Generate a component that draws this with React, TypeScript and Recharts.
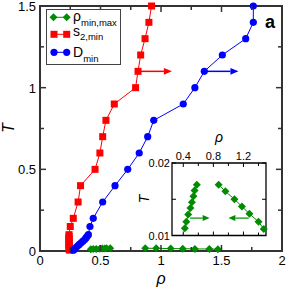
import React from "react";
import {
  LineChart,
  Line,
  XAxis,
  YAxis,
  ReferenceArea,
  ReferenceLine,
  Legend,
} from "recharts";

// s2,min branch (red squares)
const s2MinRho = [0.245, 0.24, 0.24, 0.24, 0.24, 0.24, 0.24, 0.24, 0.24, 0.24, 0.24, 0.25, 0.275, 0.315, 0.335, 0.455, 0.495, 0.518, 0.545, 0.614, 0.79, 0.81, 0.832, 0.868, 0.9, 0.922];
const s2MinT = [0.005, 0.01, 0.02, 0.03, 0.04, 0.05, 0.06, 0.07, 0.08, 0.09, 0.1, 0.15, 0.2, 0.3, 0.4, 0.5, 0.6, 0.7, 0.8, 0.9, 1.0, 1.1, 1.2, 1.3, 1.4, 1.5];

// D_min branch (blue circles)
const dMinRho = [0.275, 0.285, 0.295, 0.31, 0.325, 0.34, 0.355, 0.37, 0.38, 0.39, 0.4, 0.413, 0.44, 0.518, 0.62, 0.725, 0.82, 0.89, 0.94, 1.184, 1.28, 1.358, 1.507, 1.7, 1.763, 1.763];
const dMinT = [0.005, 0.01, 0.02, 0.03, 0.04, 0.05, 0.06, 0.07, 0.08, 0.09, 0.1, 0.15, 0.2, 0.3, 0.4, 0.5, 0.6, 0.7, 0.8, 0.9, 1.0, 1.1, 1.2, 1.3, 1.4, 1.5];

// rho_min / rho_max (green diamonds)
const rhoMinRho = [0.58, 0.55, 0.535, 0.515, 0.495, 0.465, 0.44, 0.42];
const rhoMinT = [0.017, 0.0162, 0.0154, 0.0146, 0.0138, 0.0129, 0.0119, 0.011];
const rhoMaxRho = [0.87, 0.96, 1.08, 1.18, 1.28, 1.4, 1.47];
const rhoMaxT = [0.017, 0.0161, 0.015, 0.014, 0.013, 0.0119, 0.0109];

const mainXTicks = [0, 0.25, 0.5, 0.75, 1, 1.25, 1.5, 1.75, 2];
const mainXLabels = ["0", "", "0.5", "", "1", "", "1.5", "", "2"];
const mainYTicks = [0, 0.25, 0.5, 0.75, 1, 1.25, 1.5];
const mainYLabels = ["0", "", "0.5", "", "1", "", "1.5"];
const insetXTicks = [0.4, 0.6, 0.8, 1.0, 1.2, 1.4];
const insetXLabels = ["0.4", "", "0.8", "", "1.2", ""];
const insetYTicks = [0.01, 0.015, 0.02];
const insetYLabels = ["0.01", "", "0.02"];

const s2Arrow = [{ x: 0.81, y: 1.1 }, { x: 1.09, y: 1.1 }];
const dArrow = [{ x: 1.36, y: 1.1 }, { x: 1.64, y: 1.1 }];
const minArrow = [{ x: 0.49, y: 0.0124 }, { x: 0.75, y: 0.0124 }];
const maxArrow = [{ x: 1.27, y: 0.0124 }, { x: 1.0, y: 0.0124 }];

const zip = (xs: number[], ys: number[]) => xs.map((x, i) => ({ x, y: ys[i] }));

const RED = "#ff0000";
const BLUE = "#0000ff";
const GREEN = "#008c00";
const FRAME = "#333333";
const FONT = "'Liberation Sans', Arial, sans-serif";

// main plot box
const MAIN = { top: 6, bottom: 251, left: 40, right: 282 };
// inset plot box (in inset chart coordinates)
const INSET = { top: 33, bottom: 105.5, left: 42, right: 136 };

const square = (color: string) => (p: any) =>
  p.cx == null ? null : (
    <rect key={p.key} x={p.cx - 3.5} y={p.cy - 3.5} width={7} height={7} fill={color} />
  );
const circle = (color: string) => (p: any) =>
  p.cx == null ? null : <circle key={p.key} cx={p.cx} cy={p.cy} r={3.6} fill={color} />;
const diamond = (color: string) => (p: any) =>
  p.cx == null ? null : (
    <polygon
      key={p.key}
      points={`${p.cx},${p.cy - 4} ${p.cx + 4},${p.cy} ${p.cx},${p.cy + 4} ${p.cx - 4},${p.cy}`}
      fill={color}
    />
  );

const arrowShape = (color: string, head: number, hw: number, sw: number) => (p: any) => {
  const { x1, y1, x2, y2 } = p;
  const dir = Math.sign(x2 - x1);
  return (
    <g>
      <line x1={x1} y1={y1} x2={x2 - dir * head} y2={y2} stroke={color} strokeWidth={sw} />
      <polygon
        points={`${x2},${y2} ${x2 - dir * head},${y2 - hw} ${x2 - dir * head},${y2 + hw}`}
        fill={color}
      />
    </g>
  );
};

const MainXTick = (p: any) => {
  const label = mainXLabels[mainXTicks.indexOf(p.payload.value)] || "";
  const len = label ? 6 : 4;
  return (
    <g>
      <line x1={p.x} y1={MAIN.bottom} x2={p.x} y2={MAIN.bottom - len} stroke={FRAME} strokeWidth={1.5} />
      <line x1={p.x} y1={MAIN.top} x2={p.x} y2={MAIN.top + len} stroke={FRAME} strokeWidth={1.5} />
      {label && (
        <text x={p.x} y={MAIN.bottom + 14} textAnchor="middle" fontSize={13} fontFamily={FONT} fill="#000">
          {label}
        </text>
      )}
    </g>
  );
};

const MainYTick = (p: any) => {
  const label = mainYLabels[mainYTicks.indexOf(p.payload.value)] || "";
  const len = label ? 6 : 4;
  return (
    <g>
      <line x1={MAIN.left} y1={p.y} x2={MAIN.left + len} y2={p.y} stroke={FRAME} strokeWidth={1.5} />
      <line x1={MAIN.right} y1={p.y} x2={MAIN.right - len} y2={p.y} stroke={FRAME} strokeWidth={1.5} />
      {label && (
        <text x={MAIN.left - 4} y={p.y + 5} textAnchor="end" fontSize={13} fontFamily={FONT} fill="#000">
          {label}
        </text>
      )}
    </g>
  );
};

const InsetXTick = (p: any) => {
  const label = insetXLabels[insetXTicks.indexOf(p.payload.value)] || "";
  const len = label ? 4 : 3;
  return (
    <g>
      <line x1={p.x} y1={INSET.top} x2={p.x} y2={INSET.top + len} stroke="#000" strokeWidth={1} />
      <line x1={p.x} y1={INSET.bottom} x2={p.x} y2={INSET.bottom - len} stroke="#000" strokeWidth={1} />
      {label && (
        <text x={p.x} y={INSET.top - 3} textAnchor="middle" fontSize={11} fontFamily={FONT} fill="#000">
          {label}
        </text>
      )}
    </g>
  );
};

const InsetYTick = (p: any) => {
  const label = insetYLabels[insetYTicks.indexOf(p.payload.value)] || "";
  return (
    <g>
      <line x1={INSET.left} y1={p.y} x2={INSET.left + 4} y2={p.y} stroke="#000" strokeWidth={1} />
      <line x1={INSET.right} y1={p.y} x2={INSET.right - 4} y2={p.y} stroke="#000" strokeWidth={1} />
      {label && (
        <text x={INSET.left - 2} y={p.y + 4} textAnchor="end" fontSize={11} fontFamily={FONT} fill="#000">
          {label}
        </text>
      )}
    </g>
  );
};

const LegendBox = () => (
  <div
    style={{
      width: 75,
      height: 56,
      border: "1px solid #444",
      boxSizing: "border-box",
      background: "#fff",
      fontFamily: FONT,
    }}
  >
    <svg width={73} height={54} style={{ display: "block", overflow: "visible" }}>
      <line x1={6.5} y1={7.3} x2={19.7} y2={7.3} stroke={GREEN} strokeWidth={1} />
      {diamond(GREEN)({ cx: 6.5, cy: 7.3 })}
      {diamond(GREEN)({ cx: 19.7, cy: 7.3 })}
      <text x={26} y={11} fontSize={14} fill="#000">
        ρ<tspan fontSize={9.5} dy={4.5}>min,max</tspan>
      </text>
      <line x1={7} y1={24.3} x2={19.7} y2={24.3} stroke={RED} strokeWidth={1} />
      {square(RED)({ cx: 7, cy: 24.3 })}
      {square(RED)({ cx: 19.7, cy: 24.3 })}
      <text x={26} y={26} fontSize={14} fill="#000">
        s<tspan fontSize={9.5} dy={4}>2,min</tspan>
      </text>
      <line x1={7} y1={42.3} x2={19.7} y2={42.3} stroke={BLUE} strokeWidth={1} />
      {circle(BLUE)({ cx: 7, cy: 42.3 })}
      {circle(BLUE)({ cx: 19.7, cy: 42.3 })}
      <text x={26} y={46.7} fontSize={14} fill="#000">
        D<tspan fontSize={9.5} dy={5}>min</tspan>
      </text>
    </svg>
  </div>
);

export default function App() {
  const s2Data = zip(s2MinRho, s2MinT);
  const dData = zip(dMinRho, dMinT);
  const minData = zip(rhoMinRho, rhoMinT);
  const maxData = zip(rhoMaxRho, rhoMaxT);

  return (
    <div style={{ position: "absolute", left: 0, top: 0, width: 289, height: 291, background: "#fff" }}>
      <LineChart width={289} height={291} margin={{ top: 6, right: 7, left: 0, bottom: 0 }}>
        <XAxis
          type="number"
          dataKey="x"
          domain={[0, 2]}
          ticks={mainXTicks}
          interval={0}
          height={40}
          axisLine={false}
          tickSize={0}
          tickMargin={0}
          tick={<MainXTick />}
        />
        <YAxis
          type="number"
          dataKey="y"
          domain={[0, 1.5]}
          ticks={mainYTicks}
          interval={0}
          width={40}
          axisLine={false}
          tickSize={0}
          tickMargin={0}
          tick={<MainYTick />}
        />
        <ReferenceArea x1={0} x2={2} y1={0} y2={1.5} fill="none" stroke={FRAME} strokeWidth={2} />
        <Line data={minData} dataKey="y" stroke={GREEN} strokeWidth={1} dot={diamond(GREEN)} isAnimationActive={false} />
        <Line data={maxData} dataKey="y" stroke={GREEN} strokeWidth={1} dot={diamond(GREEN)} isAnimationActive={false} />
        <Line data={s2Data} dataKey="y" stroke={RED} strokeWidth={1} dot={square(RED)} isAnimationActive={false} />
        <Line data={dData} dataKey="y" stroke={BLUE} strokeWidth={1} dot={circle(BLUE)} isAnimationActive={false} />
        <ReferenceLine segment={s2Arrow} shape={arrowShape(RED, 8, 3.4, 1.5)} />
        <ReferenceLine segment={dArrow} shape={arrowShape(BLUE, 8, 3.4, 1.5)} />
        <Legend
          layout="vertical"
          align="center"
          verticalAlign="middle"
          wrapperStyle={{ left: 46, top: 9, width: 75, height: 56 }}
          content={() => <LegendBox />}
        />
        <text x={270} y={28} textAnchor="middle" fontSize={18} fontWeight="bold" fontFamily={FONT} fill="#000">
          a
        </text>
        <text x={161} y={284} textAnchor="middle" fontSize={16} fontStyle="italic" fontFamily={FONT} fill="#000">
          ρ
        </text>
        <text
          x={8}
          y={128}
          transform="rotate(-90 8 128)"
          textAnchor="middle"
          dominantBaseline="central"
          fontSize={16}
          fontStyle="italic"
          fontFamily={FONT}
          fill="#000"
        >
          T
        </text>
      </LineChart>

      <div style={{ position: "absolute", left: 130, top: 130 }}>
        <LineChart width={145} height={115} margin={{ top: 0, right: 9, left: 0, bottom: 9.5 }}>
          <XAxis
            type="number"
            dataKey="x"
            orientation="top"
            domain={[0.25, 1.5]}
            ticks={insetXTicks}
            interval={0}
            height={33}
            axisLine={false}
            tickSize={0}
            tickMargin={0}
            tick={<InsetXTick />}
          />
          <YAxis
            type="number"
            dataKey="y"
            domain={[0.01, 0.02]}
            ticks={insetYTicks}
            interval={0}
            width={42}
            axisLine={false}
            tickSize={0}
            tickMargin={0}
            tick={<InsetYTick />}
          />
          <ReferenceArea x1={0.25} x2={1.5} y1={0.01} y2={0.02} fill="none" stroke="#000" strokeWidth={1.3} />
          <Line data={minData} dataKey="y" stroke={GREEN} strokeWidth={1} dot={diamond(GREEN)} isAnimationActive={false} />
          <Line data={maxData} dataKey="y" stroke={GREEN} strokeWidth={1} dot={diamond(GREEN)} isAnimationActive={false} />
          <ReferenceLine segment={minArrow} shape={arrowShape(GREEN, 7, 3, 1.2)} />
          <ReferenceLine segment={maxArrow} shape={arrowShape(GREEN, 7, 3, 1.2)} />
          <text x={89} y={12} textAnchor="middle" fontSize={14} fontStyle="italic" fontFamily={FONT} fill="#000">
            ρ
          </text>
          <text
            x={14}
            y={69}
            transform="rotate(-90 14 69)"
            textAnchor="middle"
            dominantBaseline="central"
            fontSize={14}
            fontStyle="italic"
            fontFamily={FONT}
            fill="#000"
          >
            T
          </text>
        </LineChart>
      </div>
    </div>
  );
}
